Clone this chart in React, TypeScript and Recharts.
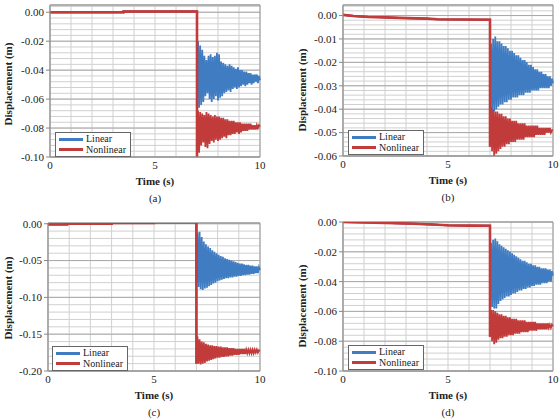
import { LineChart, Line, XAxis, YAxis, CartesianGrid, ReferenceArea, Legend } from 'recharts'

const FONT = "'Liberation Serif', 'Times New Roman', serif"
const BLUE = '#3f7cc2'
const RED = '#c23b3b'

// time samples after the step (s)
const POST_T = [
  7.0, 7.05, 7.1, 7.15, 7.2, 7.25, 7.3, 7.35, 7.4, 7.45,
  7.5, 7.55, 7.6, 7.65, 7.7, 7.75, 7.8, 7.85, 7.9, 7.95,
  8.0, 8.05, 8.1, 8.15, 8.2, 8.25, 8.3, 8.35, 8.4, 8.45,
  8.5, 8.55, 8.6, 8.65, 8.7, 8.75, 8.8, 8.85, 8.9, 8.95,
  9.0, 9.05, 9.1, 9.15, 9.2, 9.25, 9.3, 9.35, 9.4, 9.45,
  9.5, 9.55, 9.6, 9.65, 9.7, 9.75, 9.8, 9.85, 9.9, 9.95,
  10.0,
]
const X_TICKS = [0, 5, 10]
const X_GRID = [0, 1, 2, 3, 4, 5, 6, 7, 8, 9, 10]

// (a)
const A_PRE_T = [0, 3.5, 3.5, 7.0]
const A_PRE = [0, 0, 0.0005, 0.0005]
const A_LIN = [
  -0.058, -0.020, -0.066, -0.023, -0.064, -0.026, -0.062, -0.030, -0.058, -0.033,
  -0.056, -0.030, -0.060, -0.029, -0.062, -0.031, -0.060, -0.030, -0.058, -0.028,
  -0.061, -0.029, -0.059, -0.034, -0.058, -0.035, -0.056, -0.036, -0.055, -0.037,
  -0.054, -0.036, -0.055, -0.037, -0.053, -0.038, -0.052, -0.039, -0.053, -0.038,
  -0.052, -0.040, -0.051, -0.040, -0.050, -0.041, -0.051, -0.041, -0.050, -0.042,
  -0.049, -0.042, -0.050, -0.043, -0.049, -0.043, -0.048, -0.043, -0.049, -0.044,
  -0.047,
]
const A_NON = [
  -0.100, -0.068, -0.097, -0.069, -0.092, -0.070, -0.090, -0.071, -0.093, -0.069,
  -0.094, -0.070, -0.091, -0.071, -0.089, -0.072, -0.090, -0.071, -0.088, -0.072,
  -0.089, -0.072, -0.088, -0.073, -0.087, -0.073, -0.086, -0.074, -0.087, -0.074,
  -0.085, -0.075, -0.085, -0.075, -0.084, -0.075, -0.084, -0.076, -0.083, -0.076,
  -0.084, -0.076, -0.083, -0.077, -0.082, -0.077, -0.082, -0.077, -0.082, -0.077,
  -0.081, -0.077, -0.081, -0.078, -0.081, -0.078, -0.081, -0.078, -0.080, -0.078,
  -0.079,
]
const A_TICKS = [0, -0.02, -0.04, -0.06, -0.08, -0.1]

// (b)
const B_PRE_T = [0, 0.5, 1.2, 2, 3, 4, 4.5, 7.0]
const B_PRE = [0.0003, -0.0002, -0.0006, -0.0008, -0.0011, -0.0013, -0.0016, -0.0018]
const B_LIN = [
  -0.040, -0.012, -0.042, -0.010, -0.041, -0.009, -0.040, -0.011, -0.039, -0.011,
  -0.038, -0.012, -0.038, -0.013, -0.037, -0.013, -0.037, -0.014, -0.036, -0.015,
  -0.036, -0.015, -0.035, -0.016, -0.035, -0.017, -0.035, -0.017, -0.034, -0.018,
  -0.034, -0.019, -0.034, -0.019, -0.033, -0.020, -0.033, -0.021, -0.033, -0.021,
  -0.032, -0.022, -0.032, -0.023, -0.032, -0.023, -0.032, -0.024, -0.031, -0.024,
  -0.031, -0.025, -0.031, -0.025, -0.031, -0.026, -0.031, -0.026, -0.030, -0.027,
  -0.029,
]
const B_NON = [
  -0.056, -0.039, -0.058, -0.040, -0.060, -0.041, -0.059, -0.041, -0.058, -0.042,
  -0.057, -0.042, -0.056, -0.043, -0.056, -0.043, -0.055, -0.044, -0.055, -0.044,
  -0.054, -0.045, -0.054, -0.045, -0.054, -0.045, -0.053, -0.046, -0.053, -0.046,
  -0.053, -0.046, -0.053, -0.046, -0.052, -0.047, -0.052, -0.047, -0.052, -0.047,
  -0.052, -0.047, -0.052, -0.047, -0.051, -0.047, -0.051, -0.048, -0.051, -0.048,
  -0.051, -0.048, -0.051, -0.048, -0.050, -0.048, -0.050, -0.048, -0.050, -0.049,
  -0.049,
]
const B_TICKS = [0, -0.01, -0.02, -0.03, -0.04, -0.05, -0.06]

// (c)
const C_PRE_T = [0, 0.9, 0.9, 3.0, 3.0, 5.0, 5.0, 7.0]
const C_PRE = [-0.001, -0.001, 0, 0, 0.001, 0.001, 0.002, 0.002]
const C_LIN = [
  -0.080, -0.012, -0.086, -0.011, -0.089, -0.018, -0.090, -0.024, -0.088, -0.028,
  -0.087, -0.031, -0.085, -0.033, -0.083, -0.036, -0.081, -0.038, -0.080, -0.040,
  -0.078, -0.042, -0.077, -0.044, -0.076, -0.045, -0.075, -0.047, -0.074, -0.048,
  -0.074, -0.049, -0.073, -0.050, -0.073, -0.051, -0.072, -0.052, -0.072, -0.053,
  -0.071, -0.054, -0.071, -0.054, -0.070, -0.055, -0.070, -0.056, -0.069, -0.056,
  -0.069, -0.057, -0.068, -0.057, -0.068, -0.058, -0.067, -0.058, -0.067, -0.059,
  -0.063,
]
const C_NON = [
  -0.190, -0.153, -0.190, -0.157, -0.191, -0.160, -0.190, -0.161, -0.189, -0.163,
  -0.187, -0.164, -0.186, -0.165, -0.185, -0.165, -0.184, -0.166, -0.183, -0.166,
  -0.182, -0.167, -0.182, -0.167, -0.181, -0.168, -0.181, -0.168, -0.180, -0.168,
  -0.180, -0.169, -0.179, -0.169, -0.179, -0.169, -0.178, -0.170, -0.178, -0.170,
  -0.178, -0.170, -0.177, -0.170, -0.177, -0.170, -0.177, -0.171, -0.176, -0.171,
  -0.176, -0.171, -0.176, -0.171, -0.176, -0.171, -0.175, -0.171, -0.175, -0.172,
  -0.173,
]
const C_TICKS = [0, -0.05, -0.1, -0.15, -0.2]

// (d)
const D_PRE_T = [0, 1, 2, 3, 4, 5, 6, 7.0]
const D_PRE = [0, -0.0003, -0.0006, -0.001, -0.0015, -0.0022, -0.0024, -0.0025]
const D_LIN = [
  -0.052, -0.014, -0.057, -0.012, -0.058, -0.011, -0.058, -0.013, -0.055, -0.015,
  -0.053, -0.016, -0.052, -0.017, -0.051, -0.018, -0.050, -0.019, -0.050, -0.020,
  -0.049, -0.021, -0.048, -0.022, -0.048, -0.023, -0.047, -0.024, -0.046, -0.025,
  -0.046, -0.026, -0.045, -0.026, -0.045, -0.027, -0.044, -0.028, -0.044, -0.028,
  -0.043, -0.029, -0.043, -0.029, -0.042, -0.030, -0.042, -0.030, -0.042, -0.031,
  -0.041, -0.031, -0.041, -0.031, -0.041, -0.032, -0.040, -0.032, -0.040, -0.033,
  -0.036,
]
const D_NON = [
  -0.077, -0.059, -0.080, -0.059, -0.082, -0.060, -0.081, -0.061, -0.079, -0.062,
  -0.078, -0.062, -0.078, -0.063, -0.077, -0.063, -0.077, -0.064, -0.076, -0.064,
  -0.076, -0.065, -0.076, -0.065, -0.075, -0.065, -0.075, -0.066, -0.075, -0.066,
  -0.074, -0.066, -0.074, -0.066, -0.074, -0.067, -0.074, -0.067, -0.073, -0.067,
  -0.073, -0.067, -0.073, -0.067, -0.073, -0.068, -0.072, -0.068, -0.072, -0.068,
  -0.072, -0.068, -0.072, -0.068, -0.072, -0.068, -0.071, -0.069, -0.071, -0.069,
  -0.070,
]
const D_TICKS = [0, -0.02, -0.04, -0.06, -0.08, -0.1]

type Row = { t: number; lin: number; non: number; pre?: number }

function buildRows(preT: number[], pre: number[], lin: number[], non: number[]): Row[] {
  const rows: Row[] = preT.map((t, i) => ({ t, lin: pre[i], non: pre[i], pre: pre[i] }))
  POST_T.forEach((t, i) => {
    rows.push({ t, lin: lin[i], non: non[i], pre: i === 0 ? non[i] : undefined })
  })
  return rows
}

// minor grid values, top down
function gridValues(top: number, bottom: number, step: number) {
  const out: number[] = []
  for (let v = top; v >= bottom - 1e-9; v -= step) out.push(+v.toFixed(4))
  return out
}

const renderLegend = (props: any) => (
  <div
    style={{
      border: '1px solid #666',
      background: '#fff',
      padding: '1px 4px 1px 3px',
      fontFamily: FONT,
      fontSize: 10,
      lineHeight: '10.5px',
      color: '#222',
    }}
  >
    {(props.payload || [])
      .filter((entry: any) => entry.dataKey !== 'pre' && entry.type !== 'none')
      .map((entry: any) => (
        <div key={entry.value} style={{ display: 'flex', alignItems: 'center', gap: 3 }}>
          <span style={{ display: 'inline-block', width: 24, height: 3, background: entry.color }} />
          <span>{entry.value}</span>
        </div>
      ))}
  </div>
)

interface PanelProps {
  left: number
  top: number
  width: number
  height: number
  yWidth: number
  margin: { top: number; right: number; bottom: number }
  domain: [number, number]
  ticks: number[]
  minorStep: number
  rows: Row[]
  caption: string
  captionY: number
  legendPos: { left: number; top: number }
  yLabelPos: { x: number; y: number }
}

function Panel(p: PanelProps) {
  const minor = gridValues(p.domain[1] > 0.0039 ? 0.004 : 0, p.domain[0], p.minorStep)
  const plotLeft = p.yWidth
  const plotRight = p.width - p.margin.right
  const labelStyle = { fontFamily: FONT, fontSize: 11, fontWeight: 'bold' as const, fill: '#222' }
  const tickStyle = { fill: '#222', fontSize: 11, fontFamily: FONT }
  return (
    <div style={{ position: 'absolute', left: p.left, top: p.top, width: p.width, height: p.height }}>
      <LineChart
        width={p.width}
        height={p.height}
        data={p.rows}
        margin={{ top: p.margin.top, right: p.margin.right, bottom: p.margin.bottom, left: 0 }}
      >
        <CartesianGrid yAxisId="minor" verticalValues={X_GRID} stroke="#d0d0d0" strokeWidth={1} />
        <CartesianGrid vertical={false} stroke="#a9a9a9" strokeWidth={1} />
        <XAxis
          type="number"
          dataKey="t"
          domain={[0, 10]}
          ticks={X_TICKS}
          interval={0}
          height={40}
          tickSize={0}
          tickMargin={4}
          tickLine={false}
          axisLine={{ stroke: '#999' }}
          tick={tickStyle}
          label={{ value: 'Time (s)', position: 'insideBottom', offset: 12, style: labelStyle }}
        />
        <YAxis
          yAxisId="minor"
          type="number"
          domain={p.domain}
          ticks={minor}
          interval={0}
          allowDataOverflow
          hide
        />
        <YAxis
          type="number"
          domain={p.domain}
          ticks={p.ticks}
          interval={0}
          width={p.yWidth}
          allowDataOverflow
          tickSize={4}
          tickMargin={2}
          tickLine={{ stroke: '#888' }}
          axisLine={{ stroke: '#999' }}
          tickFormatter={(v: number) => v.toFixed(2)}
          tick={tickStyle}
          label={{
            content: () => (
              <text
                x={p.yLabelPos.x}
                y={p.yLabelPos.y}
                transform={`rotate(-90 ${p.yLabelPos.x} ${p.yLabelPos.y})`}
                textAnchor="middle"
                dominantBaseline="central"
                style={labelStyle}
              >
                Displacement (m)
              </text>
            ),
          }}
        />
        <ReferenceArea x1={0} x2={10} y1={p.domain[0]} y2={p.domain[1]} fill="none" stroke="#999" strokeWidth={1} />
        <Line type="linear" dataKey="lin" name="Linear" stroke={BLUE} strokeWidth={1.8} dot={false} isAnimationActive={false} />
        <Line type="linear" dataKey="non" name="Nonlinear" stroke={RED} strokeWidth={1.8} dot={false} isAnimationActive={false} />
        <Line
          type="linear"
          dataKey="pre"
          stroke={RED}
          strokeWidth={2.6}
          dot={false}
          legendType="none"
          isAnimationActive={false}
        />
        <Legend
          layout="horizontal"
          verticalAlign="middle"
          align="center"
          content={renderLegend}
          wrapperStyle={{ left: p.legendPos.left, top: p.legendPos.top, width: 'auto', height: 'auto' }}
        />
      </LineChart>
      <div
        style={{
          position: 'absolute',
          left: plotLeft,
          width: plotRight - plotLeft,
          top: p.captionY - 7,
          textAlign: 'center',
          fontFamily: FONT,
          fontSize: 11,
          color: '#222',
          lineHeight: '14px',
        }}
      >
        {p.caption}
      </div>
    </div>
  )
}

export default function App() {
  return (
    <div style={{ position: 'absolute', left: 0, top: 0, width: 559, height: 419, background: '#fff' }}>
      <Panel
        left={0}
        top={0}
        width={280}
        height={210}
        yWidth={50}
        margin={{ top: 5, right: 20, bottom: 13 }}
        domain={[-0.1, 0.005]}
        ticks={A_TICKS}
        minorStep={0.004}
        rows={buildRows(A_PRE_T, A_PRE, A_LIN, A_NON)}
        caption="(a)"
        captionY={198}
        legendPos={{ left: 55, top: 132 }}
        yLabelPos={{ x: 8, y: 84 }}
      />
      <Panel
        left={280}
        top={0}
        width={279}
        height={210}
        yWidth={63}
        margin={{ top: 5, right: 6, bottom: 14 }}
        domain={[-0.06, 0.0045]}
        ticks={B_TICKS}
        minorStep={0.002}
        rows={buildRows(B_PRE_T, B_PRE, B_LIN, B_NON)}
        caption="(b)"
        captionY={197}
        legendPos={{ left: 68, top: 130 }}
        yLabelPos={{ x: 22, y: 90 }}
      />
      <Panel
        left={0}
        top={210}
        width={280}
        height={209}
        yWidth={48}
        margin={{ top: 13, right: 20, bottom: 8 }}
        domain={[-0.2, 0.001]}
        ticks={C_TICKS}
        minorStep={0.01}
        rows={buildRows(C_PRE_T, C_PRE, C_LIN, C_NON)}
        caption="(c)"
        captionY={202}
        legendPos={{ left: 52, top: 136 }}
        yLabelPos={{ x: 8, y: 88 }}
      />
      <Panel
        left={280}
        top={210}
        width={279}
        height={209}
        yWidth={63}
        margin={{ top: 12, right: 6, bottom: 8 }}
        domain={[-0.1, 0]}
        ticks={D_TICKS}
        minorStep={0.004}
        rows={buildRows(D_PRE_T, D_PRE, D_LIN, D_NON)}
        caption="(d)"
        captionY={202}
        legendPos={{ left: 68, top: 135 }}
        yLabelPos={{ x: 22, y: 96 }}
      />
    </div>
  )
}
